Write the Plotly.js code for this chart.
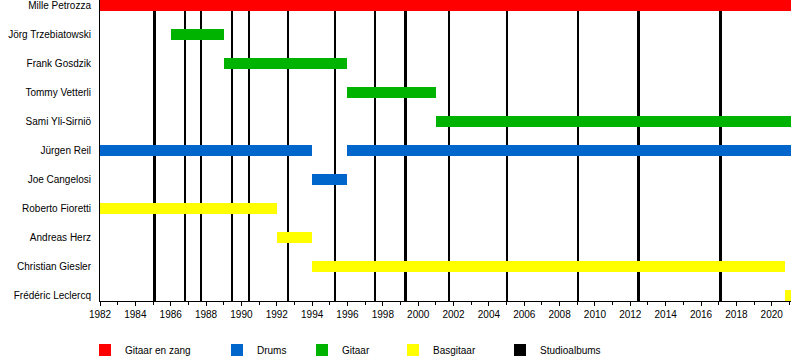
<!DOCTYPE html>
<html>
<head>
<meta charset="utf-8">
<script src="https://cdn.plot.ly/plotly-3.0.1.min.js"></script>
<style>html,body{margin:0;padding:0;background:#fff;}#chart{width:800px;height:360px;}</style>
</head>
<body>
<div id="chart"></div>
<script>
// Members (top to bottom)
const members = ['Mille Petrozza','Jörg Trzebiatowski','Frank Gosdzik','Tommy Vetterli','Sami Yli-Sirniö','Jürgen Reil','Joe Cangelosi','Roberto Fioretti','Andreas Herz','Christian Giesler','Frédéric Leclercq'];
// Roles (legend)
const roles = ['Gitaar en zang','Drums','Gitaar','Basgitaar'];
const roleColors = ['#ff0000','#0066cc','#00b300','#ffff00'];
// Membership periods
const endDate = 2021.09;
const stintMember = ['Mille Petrozza','Jörg Trzebiatowski','Frank Gosdzik','Tommy Vetterli','Sami Yli-Sirniö','Jürgen Reil','Jürgen Reil','Joe Cangelosi','Roberto Fioretti','Andreas Herz','Christian Giesler','Frédéric Leclercq'];
const stintRole = ['Gitaar en zang','Gitaar','Gitaar','Gitaar','Gitaar','Drums','Drums','Drums','Basgitaar','Basgitaar','Basgitaar','Basgitaar'];
const stintStart = [1982, 1986, 1989, 1996, 2001, 1982, 1996, 1994, 1982, 1992, 1994, 2020.75];
const stintEnd = [endDate, 1989, 1996, 2001, endDate, 1994, endDate, 1996, 1992, 1994, 2020.75, endDate];
// Studio albums (release dates)
const albumLabel = 'Studioalbums';
const albums = [1985.10, 1986.81, 1987.72, 1989.47, 1990.43, 1992.64, 1995.30, 1997.56, 1999.30, 2001.75, 2005.03, 2009.05, 2012.45, 2017.09];
// Axis ticks
const startYear = 1982;
const yearTicks = [1982,1984,1986,1988,1990,1992,1994,1996,1998,2000,2002,2004,2006,2008,2010,2012,2014,2016,2018,2020];

const font = 'Liberation Sans, Arial, sans-serif';
const yRange = [members.length - 1 + 0.2, -0.18];
const xRange = [startYear, endDate];
const legendCenters = [105, 237, 322, 413, 520];

const traces = [];
// album lines (drawn beneath the member bars)
traces.push({
  type: 'bar', orientation: 'v', name: albumLabel,
  x: albums, y: albums.map(() => members.length + 1), base: -1,
  width: 0.15, marker: {color: '#000000', line: {width: 0}},
  xaxis: 'x', yaxis: 'y', legend: 'legend5', hoverinfo: 'x'
});
roles.forEach((r, k) => {
  const idx = stintRole.map((v, i) => v === r ? i : -1).filter(i => i >= 0);
  traces.push({
    type: 'bar', orientation: 'h', name: r,
    y: idx.map(i => members.indexOf(stintMember[i])),
    x: idx.map(i => stintEnd[i] - stintStart[i]),
    base: idx.map(i => stintStart[i]),
    width: 0.38,
    marker: {color: roleColors[k], line: {width: 0}},
    xaxis: 'x2', yaxis: 'y2',
    legend: k === 0 ? 'legend' : 'legend' + (k + 1)
  });
});

const legendBase = {orientation: 'h', xref: 'container', yref: 'container', xanchor: 'left', yanchor: 'middle',
  y: 1 - 350/360, bgcolor: 'rgba(0,0,0,0)', borderwidth: 0, font: {family: font, size: 10, color: '#000'}};
const layout = {
  width: 800, height: 360,
  margin: {l: 100, r: 9, t: 0, b: 59},
  paper_bgcolor: '#fff', plot_bgcolor: '#fff',
  barmode: 'overlay', bargap: 0,
  showlegend: true,
  font: {family: font, size: 10, color: '#000'},
  xaxis: {range: xRange, showgrid: false, zeroline: false, showline: true, linecolor: '#000', linewidth: 1,
    ticks: 'outside', ticklen: 4, tickwidth: 1, tickcolor: '#000', tickvals: yearTicks,
    tickfont: {family: font, size: 10, color: '#000'},
    minor: {dtick: 1, tick0: startYear, ticks: 'outside', ticklen: 3, tickwidth: 1, tickcolor: '#000', showgrid: false},
    fixedrange: true},
  yaxis: {range: yRange, showgrid: false, zeroline: false, showline: true, linecolor: '#000', linewidth: 1,
    tickvals: members.map((m, i) => i), ticktext: members, ticks: '', ticklabelstandoff: 6,
    ticklabeloverflow: 'allow', automargin: false,
    tickfont: {family: font, size: 10, color: '#000'}, fixedrange: true},
  xaxis2: {range: xRange, overlaying: 'x', visible: false, fixedrange: true},
  yaxis2: {range: yRange, overlaying: 'y', visible: false, fixedrange: true},
  legend: Object.assign({}, legendBase, {x: (legendCenters[0] - 20) / 800}),
  legend2: Object.assign({}, legendBase, {x: (legendCenters[1] - 20) / 800}),
  legend3: Object.assign({}, legendBase, {x: (legendCenters[2] - 20) / 800}),
  legend4: Object.assign({}, legendBase, {x: (legendCenters[3] - 20) / 800}),
  legend5: Object.assign({}, legendBase, {x: (legendCenters[4] - 20) / 800})
};
Plotly.newPlot('chart', traces, layout, {displayModeBar: false, staticPlot: true});
</script>
</body>
</html>
